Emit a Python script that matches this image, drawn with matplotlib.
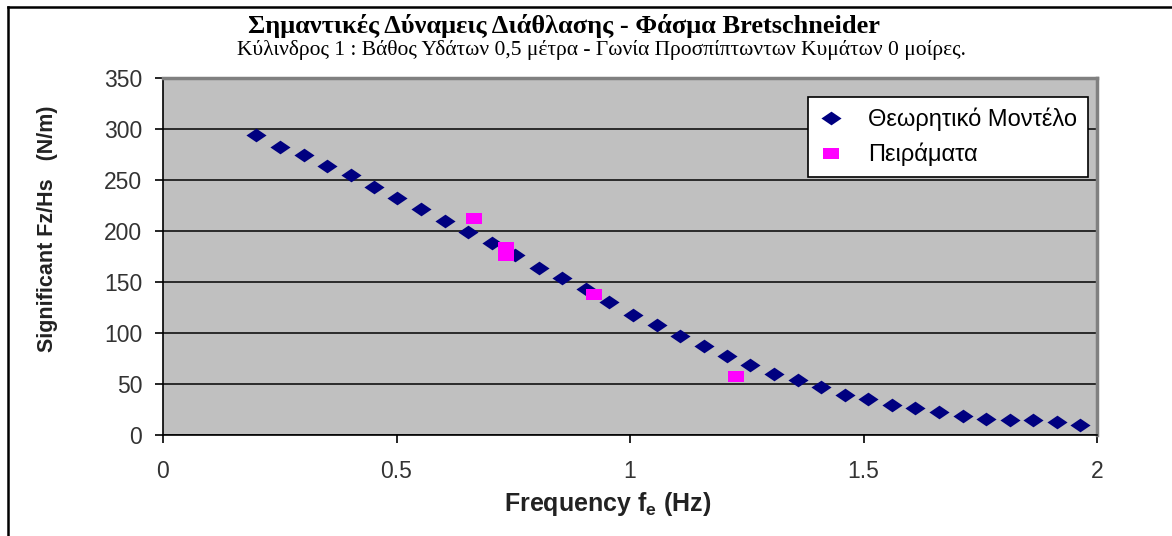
import numpy as np
import matplotlib.pyplot as plt
from matplotlib.path import Path
from matplotlib.lines import Line2D

# theoretical model (Bretschneider spectrum), frequency in Hz
freq_model = [0.200, 0.250, 0.301, 0.351, 0.402, 0.452, 0.502, 0.553, 0.603,
              0.654, 0.704, 0.754, 0.805, 0.855, 0.906, 0.956, 1.006, 1.057,
              1.107, 1.158, 1.208, 1.258, 1.309, 1.359, 1.410, 1.460, 1.510,
              1.561, 1.611, 1.662, 1.712, 1.762, 1.813, 1.863, 1.914, 1.964]
fz_model = [294, 282, 275, 264, 254.5, 243.5, 232, 222, 210,
            199.5, 188, 176, 163.5, 154, 143, 130, 117.5, 107.5,
            97.5, 87.7, 77.5, 69, 60, 53.5, 47, 39.5, 35,
            29.6, 26.3, 23, 18.7, 15.8, 14.3, 14.5, 12.5, 10.2]

# experiments
freq_exp = [0.667, 0.734, 0.734, 0.923, 1.227]
fz_exp = [213, 184, 176, 138, 57.5]

title = "Σημαντικές Δύναμεις Διάθλασης - Φάσμα Bretschneider"
subtitle = "Κύλινδρος 1 : Βάθος Υδάτων 0,5 μέτρα - Γωνία Προσπίπτωντων Κυμάτων 0 μοίρες."
legend_labels = ["Θεωρητικό Μοντέλο", "Πειράματα"]

plt.rcParams['font.family'] = ['Liberation Sans', 'DejaVu Sans']
plt.rcParams['mathtext.default'] = 'regular'

W, H = 1172, 536
fig = plt.figure(figsize=(W / 100, H / 100), dpi=100)
fig.patch.set_facecolor('white')

# plot area in pixels: x 163..1097, y 78..435
ax = fig.add_axes([163 / W, 1 - 435 / H, 934 / W, 357 / H])
ax.set_facecolor('#c0c0c0')

# squashed diamond and flat square markers
diamond = Path([(-1, 0), (0, 0.68), (1, 0), (0, -0.68), (-1, 0)],
               [Path.MOVETO, Path.LINETO, Path.LINETO, Path.LINETO, Path.CLOSEPOLY])
square = Path([(-1, -0.72), (1, -0.72), (1, 0.72), (-1, 0.72), (-1, -0.72)],
              [Path.MOVETO, Path.LINETO, Path.LINETO, Path.LINETO, Path.CLOSEPOLY])

ax.plot(freq_model, fz_model, linestyle='none', marker=diamond, markersize=14.5,
        color='#000080', markeredgewidth=0, label=legend_labels[0], zorder=3)
ax.plot(freq_exp, fz_exp, linestyle='none', marker=square, markersize=11,
        color='#ff00ff', markeredgewidth=0, label=legend_labels[1], zorder=4)

ax.set_xlim(0, 2)
ax.set_ylim(0, 350)
ax.set_xticks([0, 0.5, 1, 1.5, 2])
ax.set_xticklabels(['0', '0.5', '1', '1.5', '2'])
ax.set_yticks(np.arange(0, 351, 50))
ax.yaxis.grid(True, color='#111111', linewidth=1.2)
ax.set_axisbelow(True)

for side in ['top', 'right']:
    ax.spines[side].set_color('#808080')
    ax.spines[side].set_linewidth(2.5)
for side in ['left', 'bottom']:
    ax.spines[side].set_color('black')
    ax.spines[side].set_linewidth(1.2)

ax.tick_params(axis='both', direction='out', length=6, width=1.2,
               labelsize=16.5, labelcolor='#333333')
ax.tick_params(axis='y', pad=9)
ax.tick_params(axis='x', pad=12)

ax.set_ylabel("Significant Fz/Hs   (N/m)", fontsize=15.5, fontweight='bold',
              color='#222222')
ax.yaxis.set_label_coords((58 - 163) / 934, 0.577)
ax.set_xlabel("Frequency f$_{e}$ (Hz)", fontsize=18, fontweight='bold',
              color='#222222')
ax.xaxis.set_label_coords((608 - 163) / 934, -(490 - 435) / 357)

leg = ax.legend(loc='upper right', bbox_to_anchor=((1088 - 163) / 934, (435 - 97) / 357),
                borderaxespad=0, frameon=True, fancybox=False, fontsize=17,
                handletextpad=1.1, labelspacing=0.48, borderpad=0.45, handlelength=1.0)
leg.get_frame().set_edgecolor('black')
leg.get_frame().set_linewidth(1.2)
leg.get_frame().set_facecolor('white')
leg.get_frame().set_alpha(1)

fig.text(564 / W, 1 - 26 / H, title, ha='center', va='center', fontsize=19,
         fontweight='bold', family=['Liberation Serif', 'DejaVu Serif'])
fig.text(601 / W, 1 - 50 / H, subtitle, ha='center', va='center', fontsize=15.5,
         family=['Liberation Serif', 'DejaVu Serif'])

# outer chart frame (left and top edges)
fig.add_artist(Line2D([7.5 / W, 7.5 / W], [0, 1 - 6.5 / H], color='black', linewidth=1.8))
fig.add_artist(Line2D([7.5 / W, 1], [1 - 6.5 / H, 1 - 6.5 / H], color='black', linewidth=1.8))

fig.savefig('out.png', dpi=100)
